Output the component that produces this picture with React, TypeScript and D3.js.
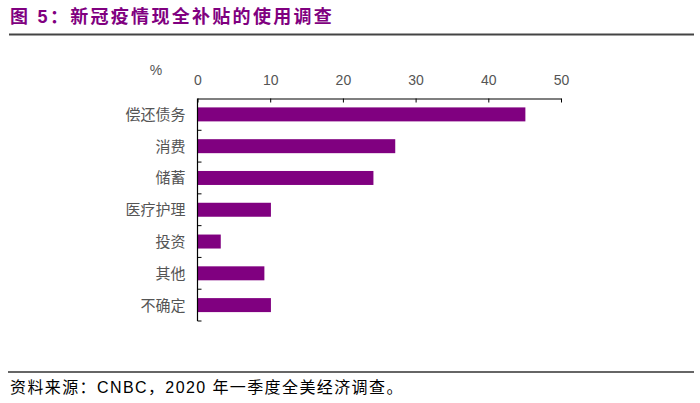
import { useEffect, useRef } from "react";
import * as d3 from "d3";

const categories = ["偿还债务", "消费", "储蓄", "医疗护理", "投资", "其他", "不确定"];
const values = [45.1, 27.2, 24.2, 10.1, 3.2, 9.2, 10.1];
const xTicks = [0, 10, 20, 30, 40, 50];

const WIDTH = 700;
const HEIGHT = 403;
const PLOT = { left: 197.5, right: 561, top: 98.5, bottom: 321 };
const PURPLE = "#800080";
const FONT = "'Liberation Sans', 'Noto Sans CJK SC', Arial, sans-serif";

export default function App() {
  const xAxisRef = useRef<SVGGElement>(null);
  const yAxisRef = useRef<SVGGElement>(null);

  const x = d3.scaleLinear().domain([0, 50]).range([PLOT.left, PLOT.right]);
  const y = d3
    .scaleBand()
    .domain(categories)
    .range([PLOT.top, PLOT.bottom])
    .paddingInner(0.56)
    .paddingOuter(0.28);
  const bandStep = y.step();

  useEffect(() => {
    if (!xAxisRef.current) return;
    d3.select(xAxisRef.current)
      .call(d3.axisTop(x).tickValues(xTicks).tickSize(-4).tickPadding(14).tickSizeOuter(0))
      .call((g) => g.select(".domain").attr("stroke", "#000").attr("stroke-width", 1.2))
      .call((g) => g.selectAll(".tick line").attr("stroke", "#000"))
      .call((g) =>
        g
          .selectAll<SVGTextElement, unknown>(".tick text")
          .attr("fill", "#555")
          .attr("font-size", 14)
          .attr("font-family", FONT)
      );
  }, []);

  useEffect(() => {
    if (!yAxisRef.current) return;
    const g = d3.select(yAxisRef.current);
    g.selectAll("*").remove();
    g.append("line")
      .attr("x1", PLOT.left)
      .attr("x2", PLOT.left)
      .attr("y1", PLOT.top)
      .attr("y2", PLOT.bottom)
      .attr("stroke", "#000")
      .attr("stroke-width", 1.2);
    // tick marks sit on the band boundaries, pointing into the plot
    const bounds = d3.range(1, categories.length + 1).map((i) => PLOT.top + i * bandStep);
    g.selectAll("line.tk")
      .data(bounds)
      .join("line")
      .attr("class", "tk")
      .attr("x1", PLOT.left)
      .attr("x2", PLOT.left + 4)
      .attr("y1", (d) => d)
      .attr("y2", (d) => d)
      .attr("stroke", "#000");
    g.selectAll("text")
      .data(categories)
      .join("text")
      .attr("x", PLOT.left - 12)
      .attr("y", (d) => (y(d) ?? 0) + y.bandwidth() / 2)
      .attr("dominant-baseline", "central")
      .attr("text-anchor", "end")
      .attr("font-size", 15)
      .attr("font-family", FONT)
      .attr("fill", "#555")
      .text((d) => d);
  }, []);

  return (
    <svg width={WIDTH} height={HEIGHT} style={{ position: "absolute", left: 0, top: 0, background: "#fff" }}>
      <text x={10} y={23} fontSize={18} fontWeight={700} fill={PURPLE} fontFamily={FONT} letterSpacing={2.3}>
        图 5：新冠疫情现全补贴的使用调查
      </text>
      <line x1={9} x2={694} y1={34.5} y2={34.5} stroke="#444" strokeWidth={2} />

      <text x={156} y={70} textAnchor="middle" dominantBaseline="central" fontSize={14} fill="#555" fontFamily={FONT}>
        %
      </text>

      {categories.map((c, i) => (
        <rect
          key={c}
          x={x(0)}
          y={y(c) ?? 0}
          width={x(values[i]) - x(0)}
          height={y.bandwidth()}
          fill={PURPLE}
        />
      ))}

      <g ref={xAxisRef} transform={`translate(0,${PLOT.top})`} />
      <g ref={yAxisRef} />

      <line x1={8} x2={694} y1={372} y2={372} stroke="#333" strokeWidth={1.5} />
      <text x={10} y={393} fontSize={16} fill="#000" fontFamily={FONT} letterSpacing={1.4}>
        资料来源：CNBC，2020 年一季度全美经济调查。
      </text>
    </svg>
  );
}
